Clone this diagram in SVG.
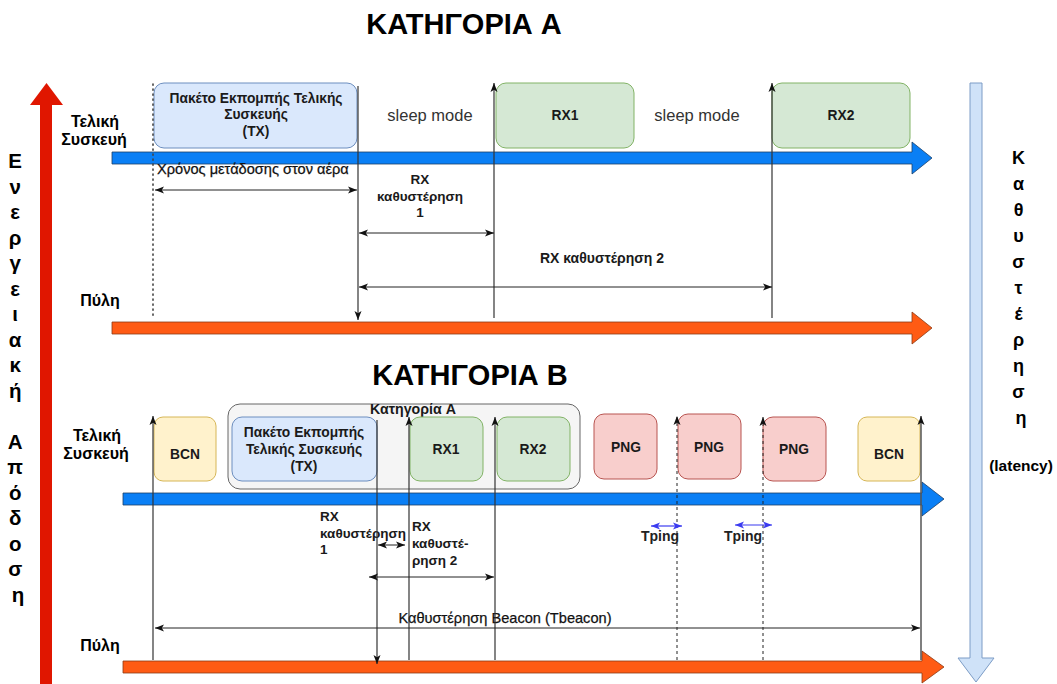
<svg xmlns="http://www.w3.org/2000/svg" width="1057" height="684" viewBox="0 0 1057 684">
  <style>
    text { font-family: "Liberation Sans", Arial, sans-serif; fill: #000; }
    .title { font-size: 29px; font-weight: bold; text-anchor: middle; }
    .lane { font-size: 16px; font-weight: bold; text-anchor: middle; }
    .side { font-size: 20.5px; font-weight: bold; text-anchor: middle; }
    .sideR { font-size: 18px; font-weight: bold; text-anchor: middle; }
    .box { font-size: 13.8px; font-weight: bold; text-anchor: middle; fill: #1a1a1a; }
    .lbl { font-size: 13.5px; font-weight: bold; fill: #1a1a1a; }
    .mid { text-anchor: middle; }
    .plain { font-size: 14.6px; fill: #111; stroke: #111; stroke-width: 0.25; }
    .sleep { font-size: 16.5px; fill: #333; text-anchor: middle; }
    .tx { fill: #dae8fc; stroke: #6c8ebf; stroke-width: 1; }
    .rx { fill: #d5e8d4; stroke: #82b366; stroke-width: 1; }
    .bcn { fill: #fff2cc; stroke: #d6b656; stroke-width: 1; }
    .png { fill: #f8cecc; stroke: #b85450; stroke-width: 1; }
    .grp { fill: #f5f5f5; stroke: #666; stroke-width: 1; }
    .blue { fill: #0a7ff5; stroke: #1d3f66; stroke-width: 0.8; }
    .orange { fill: #ff5b14; stroke: #8a3a14; stroke-width: 0.8; }
    .conn { stroke: #222; stroke-width: 1; fill: none; }
    .vline { stroke: #333; stroke-width: 1.2; fill: none; }
    .dash { stroke: #222; stroke-width: 1; fill: none; stroke-dasharray: 3 3; }
    .dot { stroke: #444; stroke-width: 1.6; fill: none; stroke-dasharray: 1.2 3.8; stroke-linecap: round; }
    .ping { stroke: #3b3bf0; stroke-width: 1.2; fill: none; }
  </style>
  <defs>
    <marker id="ah" markerUnits="userSpaceOnUse" markerWidth="10" markerHeight="8" refX="9" refY="4" orient="auto-start-reverse">
      <path d="M0,0.5 L9,4 L0,7.5 L2.2,4 Z" fill="#111"/>
    </marker>
    <marker id="ahp" markerUnits="userSpaceOnUse" markerWidth="10" markerHeight="8" refX="9" refY="4" orient="auto-start-reverse">
      <path d="M0,0.5 L9,4 L0,7.5 L2.2,4 Z" fill="#3b3bf0"/>
    </marker>
  </defs>

  <rect width="1057" height="684" fill="#fff"/>

  <!-- axis arrows -->
  <g id="energy-axis">
    <path d="M40,105 H30 L46.5,83 L63,105 H52 V684 H40 Z" fill="#e01600"/>
    <text class="side">
      <tspan x="18" y="168">Ε</tspan>
      <tspan x="18" y="193.5">ν</tspan>
      <tspan x="18" y="219">ε</tspan>
      <tspan x="18" y="244.5">ρ</tspan>
      <tspan x="18" y="270">γ</tspan>
      <tspan x="18" y="295.5">ε</tspan>
      <tspan x="18" y="321">ι</tspan>
      <tspan x="18" y="346.5">α</tspan>
      <tspan x="18" y="372">κ</tspan>
      <tspan x="18" y="397.5">ή</tspan>
      <tspan x="18" y="448.5">Α</tspan>
      <tspan x="18" y="474">π</tspan>
      <tspan x="18" y="499.5">ό</tspan>
      <tspan x="18" y="525">δ</tspan>
      <tspan x="18" y="550.5">ο</tspan>
      <tspan x="18" y="576">σ</tspan>
      <tspan x="18" y="601.5">η</tspan>
    </text>
  </g>

  <g id="latency-axis">
    <path d="M970,83 H982 V658 H994 L976,682 L958,658 H970 Z" fill="#cfe2f8" stroke="#7c9cc6" stroke-width="1"/>
    <text class="sideR">
      <tspan x="1021" y="164">Κ</tspan>
      <tspan x="1021" y="190">α</tspan>
      <tspan x="1021" y="216">θ</tspan>
      <tspan x="1021" y="242">υ</tspan>
      <tspan x="1021" y="268">σ</tspan>
      <tspan x="1021" y="294">τ</tspan>
      <tspan x="1021" y="320">έ</tspan>
      <tspan x="1021" y="346">ρ</tspan>
      <tspan x="1021" y="372">η</tspan>
      <tspan x="1021" y="398">σ</tspan>
      <tspan x="1021" y="424">η</tspan>
    </text>
    <text x="1021" y="471" style="font-size:15.5px;font-weight:bold;text-anchor:middle">(latency)</text>
  </g>

  <!-- ============ Class A ============ -->
  <text class="title" x="464" y="34">ΚΑΤΗΓΟΡΙΑ A</text>

  <g id="a-device-label">
    <text class="lane" x="95" y="127">Τελική</text>
    <text class="lane" x="94" y="145">Συσκευή</text>
  </g>
  <g id="a-gateway-label">
    <text class="lane" x="100" y="306">Πύλη</text>
  </g>

  <g id="a-tx">
    <rect class="tx" x="154" y="83" width="203" height="65" rx="10"/>
    <text class="box" x="256" y="103">Πακέτο Εκπομπής Τελικής</text>
    <text class="box" x="256" y="119">Συσκευής</text>
    <text class="box" x="256" y="136">(TX)</text>
  </g>
  <g id="a-sleep1"><text class="sleep" x="430" y="121">sleep mode</text></g>
  <g id="a-rx1">
    <rect class="rx" x="496" y="83" width="138" height="65" rx="10"/>
    <text class="box" x="565" y="120">RX1</text>
  </g>
  <g id="a-sleep2"><text class="sleep" x="697" y="121">sleep mode</text></g>
  <g id="a-rx2">
    <rect class="rx" x="772" y="83" width="138" height="65" rx="10"/>
    <text class="box" x="841" y="120">RX2</text>
  </g>

  <g id="a-device-line">
    <path class="blue" d="M112,152 H912 V142 L932,158 L912,174 V164 H112 Z"/>
  </g>
  <g id="a-gateway-line">
    <path class="orange" d="M112,322 H912 V312 L932,328 L912,344 V334 H112 Z"/>
  </g>

  <g id="a-labels">
    <text class="plain" x="157" y="174">Χρόνος μετάδοσης στον αέρα</text>
    <text class="lbl mid" x="420" y="184">RX</text>
    <text class="lbl mid" x="420" y="201">καθυστέρηση</text>
    <text class="lbl mid" x="420" y="217">1</text>
    <text class="lbl mid" x="602" y="263" style="font-size:14px">RX καθυστέρηση 2</text>
  </g>

  <g id="a-connectors">
    <line class="dot" x1="153" y1="84" x2="153" y2="318"/>
    <line class="vline" x1="358" y1="86" x2="358" y2="320" marker-end="url(#ah)"/>
    <line class="vline" x1="494" y1="318" x2="494" y2="83" marker-end="url(#ah)"/>
    <line class="vline" x1="772" y1="318" x2="772" y2="83" marker-end="url(#ah)"/>
    <line class="conn" x1="155" y1="190" x2="357" y2="190" marker-start="url(#ah)" marker-end="url(#ah)"/>
    <line class="conn" x1="359" y1="233" x2="494" y2="233" marker-start="url(#ah)" marker-end="url(#ah)"/>
    <line class="conn" x1="359" y1="287" x2="772" y2="287" marker-start="url(#ah)" marker-end="url(#ah)"/>
  </g>

  <!-- ============ Class B ============ -->
  <text class="title" x="470" y="385">ΚΑΤΗΓΟΡΙΑ B</text>

  <g id="b-device-label">
    <text class="lane" x="97" y="441">Τελική</text>
    <text class="lane" x="96" y="459">Συσκευή</text>
  </g>
  <g id="b-gateway-label">
    <text class="lane" x="100" y="651">Πύλη</text>
  </g>

  <g id="b-class-a-group">
    <rect class="grp" x="228" y="404" width="352" height="85" rx="12"/>
    <text class="box" x="413" y="414" style="font-size:14.2px">Κατηγορία A</text>
  </g>
  <g id="b-bcn1">
    <rect class="bcn" x="154" y="417" width="62" height="64" rx="9"/>
    <text class="box" x="185" y="459">BCN</text>
  </g>
  <g id="b-tx">
    <rect class="tx" x="232" y="417" width="145" height="64" rx="10"/>
    <text class="box" x="304" y="437">Πακέτο Εκπομπής</text>
    <text class="box" x="304" y="454">Τελικής Συσκευής</text>
    <text class="box" x="304" y="471">(TX)</text>
  </g>
  <g id="b-rx1">
    <rect class="rx" x="410" y="417" width="73" height="64" rx="10"/>
    <text class="box" x="446" y="454">RX1</text>
  </g>
  <g id="b-rx2">
    <rect class="rx" x="497" y="417" width="73" height="64" rx="10"/>
    <text class="box" x="533" y="454">RX2</text>
  </g>
  <g id="b-png1">
    <rect class="png" x="594" y="414" width="63" height="65" rx="10"/>
    <text class="box" x="626" y="452">PNG</text>
  </g>
  <g id="b-png2">
    <rect class="png" x="678" y="414" width="63" height="65" rx="10"/>
    <text class="box" x="709" y="452">PNG</text>
  </g>
  <g id="b-png3">
    <rect class="png" x="763" y="417" width="63" height="64" rx="10"/>
    <text class="box" x="794" y="454">PNG</text>
  </g>
  <g id="b-bcn2">
    <rect class="bcn" x="858" y="417" width="62" height="64" rx="9"/>
    <text class="box" x="889" y="459">BCN</text>
  </g>

  <g id="b-device-line">
    <path class="blue" d="M123,493 H922 V482 L944,499 L922,516 V505 H123 Z"/>
  </g>
  <g id="b-gateway-line">
    <path class="orange" d="M123,661 H922 V651 L944,667 L922,683 V673 H123 Z"/>
  </g>

  <g id="b-labels">
    <text class="lbl" x="320" y="521">RX</text>
    <text class="lbl" x="320" y="538">καθυστέρηση</text>
    <text class="lbl" x="320" y="554">1</text>
    <text class="lbl" x="412" y="531">RX</text>
    <text class="lbl" x="412" y="548">καθυστέ-</text>
    <text class="lbl" x="412" y="565">ρηση 2</text>
    <text class="lbl mid" x="660" y="541" style="fill:#222;font-size:14px">Tping</text>
    <text class="lbl mid" x="743" y="541" style="fill:#222;font-size:14px">Tping</text>
    <text class="plain mid" x="505" y="623">Καθυστέρηση Beacon (Tbeacon)</text>
  </g>

  <g id="b-connectors">
    <line class="vline" x1="153" y1="660" x2="153" y2="416" marker-end="url(#ah)"/>
    <line class="vline" x1="377" y1="420" x2="377" y2="664" marker-end="url(#ah)"/>
    <line class="vline" x1="409" y1="660" x2="409" y2="417" marker-end="url(#ah)"/>
    <line class="vline" x1="495" y1="660" x2="495" y2="417" marker-end="url(#ah)"/>
    <line class="dash" x1="677" y1="660" x2="677" y2="416" marker-end="url(#ah)"/>
    <line class="dash" x1="763" y1="660" x2="763" y2="417" marker-end="url(#ah)"/>
    <line class="vline" x1="921" y1="660" x2="921" y2="416" marker-end="url(#ah)" style="stroke:#555;stroke-width:1.5"/>
    <line class="conn" x1="378" y1="545" x2="405" y2="545" marker-start="url(#ah)" marker-end="url(#ah)"/>
    <line class="conn" x1="369" y1="577" x2="494" y2="577" marker-start="url(#ah)" marker-end="url(#ah)"/>
    <line class="conn" x1="155" y1="628" x2="920" y2="628" marker-start="url(#ah)" marker-end="url(#ah)"/>
    <line class="ping" x1="651" y1="526" x2="682" y2="526" marker-start="url(#ahp)" marker-end="url(#ahp)"/>
    <line class="ping" x1="735" y1="525" x2="772" y2="525" marker-start="url(#ahp)" marker-end="url(#ahp)"/>
  </g>
</svg>
